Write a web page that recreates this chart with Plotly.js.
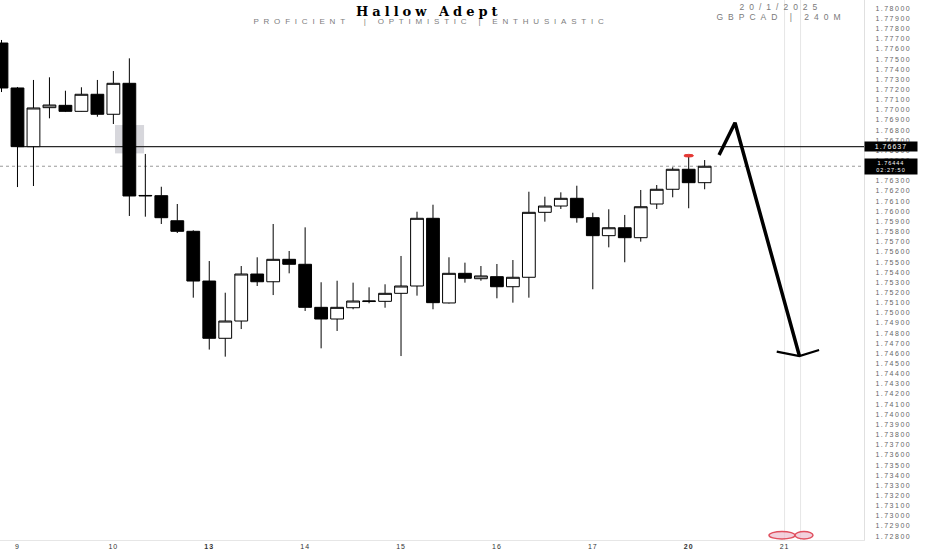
<!DOCTYPE html>
<html>
<head>
<meta charset="utf-8">
<script src="https://cdn.plot.ly/plotly-3.0.1.min.js"></script>
<style>
  html, body { margin: 0; padding: 0; background: #fff; }
  #chart { width: 932px; height: 550px; }
  .ytick text { letter-spacing: 1.5px; }
  .xtick text { letter-spacing: 1px; }
  .annotation[data-index="0"] .annotation-text { letter-spacing: 4px; }
  .annotation[data-index="1"] .annotation-text { letter-spacing: 4.8px; }
  .annotation[data-index="2"] .annotation-text { letter-spacing: 5px; }
  .annotation[data-index="3"] .annotation-text { letter-spacing: 5px; }
  .annotation[data-index="4"] .annotation-text { letter-spacing: 1px; }
  .annotation[data-index="5"] .annotation-text { letter-spacing: 1px; }
</style>
</head>
<body>
<div id="chart"></div>
<script>
// GBPCAD 4h candles, 8 Jan (last bar) to 20 Jan 2025
var opens  = [1.77658, 1.77215, 1.76637, 1.77021, 1.77044, 1.76985, 1.77153, 1.76956, 1.77261, 1.76151,
              1.76154, 1.75907, 1.75803, 1.75313, 1.74749, 1.74919, 1.75382, 1.75306, 1.75527, 1.75478,
              1.75054, 1.74939, 1.75050, 1.75111, 1.75113, 1.75192, 1.75264, 1.75931, 1.75097, 1.75389,
              1.75336, 1.75356, 1.75257, 1.75350, 1.75990, 1.76052, 1.76128, 1.75937, 1.75760, 1.75838,
              1.75740, 1.76072, 1.76217, 1.76414, 1.76282];
var highs  = [1.77688, 1.77225, 1.77294, 1.77320, 1.77188, 1.77222, 1.77294, 1.77382, 1.77507, 1.76565,
              1.76242, 1.76072, 1.75813, 1.75510, 1.75198, 1.75461, 1.75547, 1.75875, 1.75609, 1.75842,
              1.75301, 1.75316, 1.75297, 1.75251, 1.75281, 1.75560, 1.75996, 1.76065, 1.75547, 1.75494,
              1.75461, 1.75481, 1.75520, 1.76193, 1.76144, 1.76187, 1.76252, 1.75986, 1.76020, 1.75964,
              1.76210, 1.76259, 1.76434, 1.76545, 1.76505];
var lows   = [1.77175, 1.76239, 1.76249, 1.76916, 1.76978, 1.76983, 1.76932, 1.76860, 1.75954, 1.75947,
              1.75875, 1.75786, 1.75149, 1.74638, 1.74568, 1.74840, 1.75264, 1.75175, 1.75389, 1.75018,
              1.74650, 1.74821, 1.75035, 1.75094, 1.75050, 1.74574, 1.75169, 1.75035, 1.75092, 1.75297,
              1.75316, 1.75143, 1.75100, 1.75149, 1.75898, 1.76023, 1.75888, 1.75232, 1.75645, 1.75498,
              1.75701, 1.76023, 1.76138, 1.76030, 1.76217];
var closes = [1.77215, 1.76637, 1.77018, 1.77047, 1.76985, 1.77153, 1.76956, 1.77261, 1.76151, 1.76156,
              1.75937, 1.75803, 1.75313, 1.74749, 1.74919, 1.75382, 1.75306, 1.75527, 1.75478, 1.75054,
              1.74939, 1.75054, 1.75116, 1.75116, 1.75192, 1.75264, 1.75931, 1.75100, 1.75389, 1.75340,
              1.75363, 1.75257, 1.75350, 1.75990, 1.76052, 1.76128, 1.75937, 1.75760, 1.75838, 1.75740,
              1.76045, 1.76217, 1.76414, 1.76282, 1.76444];

var dayLabels = ['9', '10', '<b>13</b>', '14', '15', '16', '17', '<b>20</b>', '21'];
var barsPerDay = 6;

var priceTicks = [];
var priceTickText = [];
for (var k = 0; k <= 52; k++) {
    var v = 1.728 + k * 0.001;
    priceTicks.push(v);
    priceTickText.push(v.toFixed(5));
}

// drawn projection arrow (bar index, price)
var arrowX = [44.9, 45.9, 49.93];
var arrowY = [1.76555, 1.76873, 1.74574];
var headX = [48.51, 49.93, 51.16];
var headY = [1.74617, 1.74574, 1.74634];

// highlighted zone on the 10th
var zoneX = [7.1, 8.92];
var zoneY = [1.76571, 1.76850];

var idx = opens.map(function (_, i) { return i; });
var dayTicks = dayLabels.map(function (_, k) { return 1 + k * barsPerDay; });
var lineLevel = closes[1];
var lastPrice = closes[closes.length - 1];
var xRange = [-0.094, 53.97];
var yRange = [1.727617, 1.780818];

var PW = 864, PH = 540;
function px(x) { return x / PW; }
function py(y) { return (PH - y) / PH; }

var candles = {
    type: 'candlestick',
    x: idx, open: opens, high: highs, low: lows, close: closes,
    increasing: {line: {color: '#000', width: 1}, fillcolor: '#fff'},
    decreasing: {line: {color: '#000', width: 1}, fillcolor: '#000'},
    whiskerwidth: 0,
    hoverinfo: 'skip',
    showlegend: false
};
var arrow = {
    type: 'scatter', mode: 'lines', x: arrowX, y: arrowY,
    line: {color: '#000', width: 3.5}, hoverinfo: 'skip', showlegend: false
};
var head = {
    type: 'scatter', mode: 'lines', x: headX, y: headY,
    line: {color: '#000', width: 2.2}, hoverinfo: 'skip', showlegend: false
};

var shapes = [
    {type: 'rect', xref: 'x', yref: 'y', x0: zoneX[0], x1: zoneX[1], y0: zoneY[0], y1: zoneY[1],
     fillcolor: 'rgba(175,175,185,0.5)', line: {width: 0}, layer: 'below'},
    {type: 'line', xref: 'x', yref: 'paper', x0: 49, x1: 49, y0: 0, y1: 1,
     line: {color: '#e6e6e6', width: 1}, layer: 'below'},
    {type: 'line', xref: 'x', yref: 'paper', x0: 50, x1: 50, y0: 0, y1: 1,
     line: {color: '#e6e6e6', width: 1}, layer: 'below'},
    {type: 'line', xref: 'x', yref: 'y', x0: 1, x1: xRange[1], y0: lineLevel, y1: lineLevel,
     line: {color: '#2a2a2a', width: 1.2}, layer: 'below'},
    {type: 'line', xref: 'paper', yref: 'y', x0: 0, x1: 1, y0: lastPrice, y1: lastPrice,
     line: {color: '#9a9a9a', width: 1, dash: 'dot'}, layer: 'below'},
    {type: 'circle', xref: 'x', yref: 'y', x0: 42.7, x1: 43.3, y0: highs[43] - 0.0001, y1: highs[43] + 0.00016,
     fillcolor: '#e53935', line: {color: '#e53935', width: 1}},
    {type: 'circle', xref: 'paper', yref: 'paper', x0: px(769), x1: px(795), y0: py(539), y1: py(531.5),
     fillcolor: 'rgba(236,190,205,0.7)', line: {color: '#e0505f', width: 1.5}},
    {type: 'circle', xref: 'paper', yref: 'paper', x0: px(795), x1: px(813), y0: py(539), y1: py(531.5),
     fillcolor: 'rgba(236,190,205,0.7)', line: {color: '#e0505f', width: 1.5}}
];

var annotations = [
    {text: '<b>Hallow Adept</b>', xref: 'paper', yref: 'paper', x: px(429), y: py(11),
     xanchor: 'center', yanchor: 'middle',
     showarrow: false, font: {family: 'DejaVu Serif', size: 13, color: '#000'}},
    {text: 'PROFICIENT  | OPTIMISTIC | ENTHUSIASTIC', xref: 'paper', yref: 'paper', x: px(431), y: py(21.5),
     xanchor: 'center', yanchor: 'middle',
     showarrow: false, font: {family: 'Liberation Sans', size: 8, color: '#7d7d7d'}},
    {text: '20/1/2025', xref: 'paper', yref: 'paper', x: px(781), y: py(7.5),
     xanchor: 'center', yanchor: 'middle',
     showarrow: false, font: {family: 'Liberation Sans', size: 8.5, color: '#7a7a7a'}},
    {text: 'GBPCAD | 240M', xref: 'paper', yref: 'paper', x: px(781), y: py(16.5),
     xanchor: 'center', yanchor: 'middle',
     showarrow: false, font: {family: 'Liberation Sans', size: 8.5, color: '#7a7a7a'}},
    {text: lineLevel.toFixed(5), xref: 'paper', yref: 'y', x: 1, y: lineLevel, xanchor: 'left', yanchor: 'middle',
     showarrow: false, bgcolor: '#000', width: 50, height: 7, borderpad: 1,
     font: {family: 'Liberation Sans', size: 7, color: '#fff'}},
    {text: lastPrice.toFixed(5) + '<br>02:27:50', xref: 'paper', yref: 'y', x: 1, y: lastPrice,
     xanchor: 'left', yanchor: 'middle',
     showarrow: false, bgcolor: '#000', width: 50, borderpad: 1,
     font: {family: 'Liberation Sans', size: 5.5, color: '#fff'}}
];

var layout = {
    width: 932, height: 550,
    margin: {l: 0, r: 68, t: 0, b: 10},
    paper_bgcolor: '#fff', plot_bgcolor: '#fff',
    boxgap: 0.2, boxgroupgap: 0,
    showlegend: false,
    xaxis: {
        range: xRange, rangeslider: {visible: false},
        tickvals: dayTicks, ticktext: dayLabels, ticks: '',
        tickfont: {family: 'Liberation Sans', size: 7, color: '#333'},
        showgrid: false, zeroline: false, showline: true, linecolor: '#e6e6e6', linewidth: 1
    },
    yaxis: {
        range: yRange, side: 'right',
        tickvals: priceTicks, ticktext: priceTickText, ticks: '', ticklabelstandoff: 9,
        tickfont: {family: 'Liberation Sans', size: 7, color: '#666'},
        showgrid: false, zeroline: false, showline: true, linecolor: '#e0e0e0', linewidth: 1
    },
    shapes: shapes,
    annotations: annotations
};

Plotly.newPlot('chart', [candles, arrow, head], layout, {displayModeBar: false, staticPlot: true});
</script>
</body>
</html>
